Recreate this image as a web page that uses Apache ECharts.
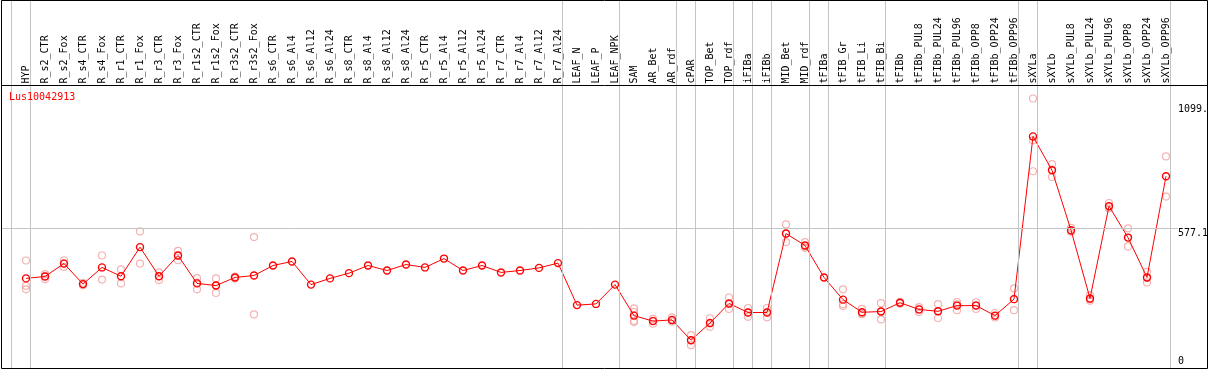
<!DOCTYPE html>
<html><head><meta charset="utf-8">
<script src="https://cdn.jsdelivr.net/npm/echarts@6/dist/echarts.min.js"></script>
<style>html,body{margin:0;padding:0;background:#fff}#c{width:1209px;height:370px}</style>
</head><body><div id="c"></div>
<script>
// ---------------- data ----------------
const chartTitle = 'Lus10042913';
const categories = ['HYP','R_s2_CTR','R_s2_Fox','R_s4_CTR','R_s4_Fox','R_r1_CTR','R_r1_Fox','R_r3_CTR','R_r3_Fox','R_r1s2_CTR','R_r1s2_Fox','R_r3s2_CTR','R_r3s2_Fox','R_s6_CTR','R_s6_Al4','R_s6_Al12','R_s6_Al24','R_s8_CTR','R_s8_Al4','R_s8_Al12','R_s8_Al24','R_r5_CTR','R_r5_Al4','R_r5_Al12','R_r5_Al24','R_r7_CTR','R_r7_Al4','R_r7_Al12','R_r7_Al24','LEAF_N','LEAF_P','LEAF_NPK','SAM','AR_Bet','AR_rdf','cPAR','TOP_Bet','TOP_rdf','iFIBa','iFIBb','MID_Bet','MID_rdf','tFIBa','tFIB_Gr','tFIB_Li','tFIB_Bi','tFIBb','tFIBb_PUL8','tFIBb_PUL24','tFIBb_PUL96','tFIBb_OPP8','tFIBb_OPP24','tFIBb_OPP96','sXYLa','sXYLb','sXYLb_PUL8','sXYLb_PUL24','sXYLb_PUL96','sXYLb_OPP8','sXYLb_OPP24','sXYLb_OPP96'];
const means = [368,376,430,344,414,377,499,377,464,347,338,372,380,422,439,342,368,390,422,401,426,414,451,401,422,393,401,412,432,256,261,342,212,189,194,109,181,263,225,225,556,506,372,279,226,229,266,238,230,254,254,212,281,963,821,570,284,671,539,372,796];
const replicates = [
  [443,337,322],[386,378,364],[444,431,416],[349,343,339],[464,363],[406,347],[565,430],[393,377,361],[483,464,444],[369,350,322],[368,339,307],[376,368],[541,217],
  [],[],[],[],[],[],[],[],[],[],[],[],[],[],[],[],
  [],[],[],
  [242,228,190,185],[198,190,178],[205,190,187],[130,109,88],[201,179,165],[288,261,240],[244,225,207],[244,226,205],[594,555,520],[520,502,496],[],
  [322,260,252],[240,221,218],[264,229,196],[270,262],[248,238,227],[260,230,202],[269,259,235],[268,255,240],[223,210,204],[326,281,235],
  [1122,947,817],[847,824,793],[580,567,563],[298,280,274],[684,667,661],[578,539,502],[395,370,351],[879,711]
];
// index of the last category of each group (-1 = left edge)
const groupEnds = [-1,0,28,31,34,35,37,38,39,41,42,45,52,53,60];
const yTickValues = [0, 577.1, 1099];
const yTickLabels = ['0', '577.1', '1099.'];

// ---------------- layout ----------------
const W = 1209;
const CAT0 = 26, STEP = 19;            // px of first category, px per category
const ZERO_PX = 366.2;                 // px of value 0
const PX_PER_UNIT = 137.7 / 577.1;     // px per data unit
const FRAME_TOP = 85.5, FRAME_BOTTOM = 368.5;
const SEP_OFFSET = 4.5 / STEP;
const pxToCat = px => (px - CAT0) / STEP;
const valAtPx = px => (ZERO_PX - px) / PX_PER_UNIT;
const FONT = 'DejaVu Sans Mono';

const gridBLeft = CAT0 - STEP / 2;
const gridBRight = W - (gridBLeft + categories.length * STEP);

const repData = [];
replicates.forEach((arr, i) => arr.forEach(v => repData.push([i, v])));
const labelOf = v => { const k = yTickValues.indexOf(v); return k >= 0 ? yTickLabels[k] : ''; };

const chart = echarts.init(document.getElementById('c'), null, {renderer: 'canvas'});
chart.setOption({
  animation: false,
  backgroundColor: '#fff',
  textStyle: {fontFamily: FONT},
  title: {
    text: chartTitle, left: 9, top: 92, padding: 0,
    textStyle: {color: '#ff0000', fontSize: 10, fontWeight: 'normal', fontFamily: FONT}
  },
  grid: [
    {left: gridBLeft, right: gridBRight, top: FRAME_TOP, bottom: 370 - FRAME_BOTTOM, outerBoundsMode: 'none', containLabel: false},
    {left: 0, right: 0, top: 0, bottom: 370 - FRAME_BOTTOM, outerBoundsMode: 'none', containLabel: false}
  ],
  xAxis: [
    {
      type: 'category', gridIndex: 0, data: categories, position: 'top', boundaryGap: true,
      axisLine: {show: false}, axisTick: {show: false}, splitLine: {show: false},
      axisLabel: {interval: 0, rotate: 90, margin: 2, fontSize: 10, fontFamily: FONT, color: '#000'}
    },
    {type: 'value', gridIndex: 1, min: pxToCat(0), max: pxToCat(W), show: false}
  ],
  yAxis: [
    {
      type: 'value', gridIndex: 0, position: 'right',
      min: valAtPx(FRAME_BOTTOM), max: valAtPx(FRAME_TOP),
      axisLine: {show: false}, axisTick: {show: false}, splitLine: {show: false},
      axisLabel: {customValues: yTickValues.slice(1), formatter: labelOf, margin: 2.5, align: 'left',
        verticalAlign: 'top', fontSize: 10, fontFamily: FONT, color: '#000'}
    },
    {
      type: 'value', gridIndex: 1, position: 'right',
      min: valAtPx(FRAME_BOTTOM), max: valAtPx(0),
      axisLine: {show: false}, axisTick: {show: false}, splitLine: {show: false},
      axisLabel: {inside: true, customValues: yTickValues.slice(0, 1), formatter: labelOf, margin: 31, align: 'left',
        verticalAlign: 'bottom', fontSize: 10, fontFamily: FONT, color: '#000'}
    }
  ],
  series: [
    {
      type: 'line', xAxisIndex: 1, yAxisIndex: 1, data: [], silent: true, z: 1,
      markLine: {
        symbol: 'none', silent: true, label: {show: false}, animation: false,
        lineStyle: {color: '#c4c4c4', width: 1, type: 'solid'},
        emphasis: {disabled: true},
        data: groupEnds.map(i => ({xAxis: i + SEP_OFFSET})).concat([
          [{coord: [pxToCat(1.5), yTickValues[1]]}, {coord: [pxToCat(1178), yTickValues[1]]}]
        ])
      }
    },
    {
      type: 'scatter', xAxisIndex: 0, yAxisIndex: 0, data: repData, z: 2, silent: true,
      symbol: 'circle', symbolSize: 7,
      itemStyle: {color: 'rgba(0,0,0,0)', borderColor: '#f0a0a0', borderWidth: 1.2}
    },
    {
      type: 'line', xAxisIndex: 0, yAxisIndex: 0, data: means, z: 3, silent: true,
      symbol: 'circle', symbolSize: 7, showAllSymbol: true,
      lineStyle: {color: '#ff0000', width: 1},
      itemStyle: {color: 'rgba(0,0,0,0)', borderColor: '#ff0000', borderWidth: 1.4}
    }
  ],
  graphic: [
    {type: 'rect', silent: true, z: 100, shape: {x: 1.5, y: 0.5, width: 1206, height: 368},
      style: {fill: 'none', stroke: '#000', lineWidth: 1}},
    {type: 'line', silent: true, z: 100, shape: {x1: 1.5, y1: 85.5, x2: 1207.5, y2: 85.5},
      style: {stroke: '#000', lineWidth: 1}}
  ]
});
</script></body></html>
